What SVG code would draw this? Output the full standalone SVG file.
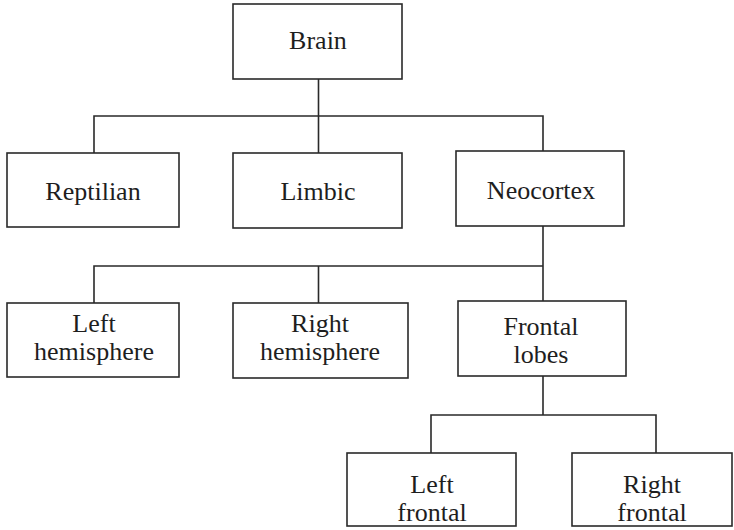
<svg xmlns="http://www.w3.org/2000/svg" width="734" height="530" viewBox="0 0 734 530">
<style>
.box{fill:#fff;stroke:#2a2a2a;stroke-width:1.6}
.t{font-family:"Liberation Serif","Times New Roman",serif;font-size:26px;fill:#1e1e1e;text-anchor:middle}
.c{fill:none;stroke:#2a2a2a;stroke-width:1.6}
</style>
<rect width="734" height="530" fill="#fff"/>
<g id="connectors">
<path class="c" d="M318.5 79V116M94 153V116H543V151M318.5 116V153"/>
<path class="c" d="M543 226V266M94 303V266H543V301M318.5 266V303"/>
<path class="c" d="M543 376V415M431 453V415H656V453"/>
</g>
<g id="brain"><rect class="box" x="233" y="4" width="169" height="75"/><text class="t" x="318" y="49">Brain</text></g>
<g id="reptilian"><rect class="box" x="7" y="153" width="172" height="74"/><text class="t" x="93" y="200">Reptilian</text></g>
<g id="limbic"><rect class="box" x="233" y="153" width="169" height="75"/><text class="t" x="318" y="200">Limbic</text></g>
<g id="neocortex"><rect class="box" x="456" y="151" width="168" height="75"/><text class="t" x="541" y="199">Neocortex</text></g>
<g id="left-hemisphere"><rect class="box" x="7" y="303" width="172" height="74"/><text class="t" x="94" y="332">Left</text><text class="t" x="94" y="360">hemisphere</text></g>
<g id="right-hemisphere"><rect class="box" x="233" y="303" width="175" height="75"/><text class="t" x="320" y="332">Right</text><text class="t" x="320" y="360">hemisphere</text></g>
<g id="frontal-lobes"><rect class="box" x="458" y="301" width="168" height="75"/><text class="t" x="541" y="335">Frontal</text><text class="t" x="541" y="363">lobes</text></g>
<g id="left-frontal"><rect class="box" x="347" y="453" width="169" height="73"/><text class="t" x="432" y="493">Left</text><text class="t" x="432" y="521">frontal</text></g>
<g id="right-frontal"><rect class="box" x="572" y="453" width="160" height="73"/><text class="t" x="652" y="493">Right</text><text class="t" x="652" y="521">frontal</text></g>
</svg>
